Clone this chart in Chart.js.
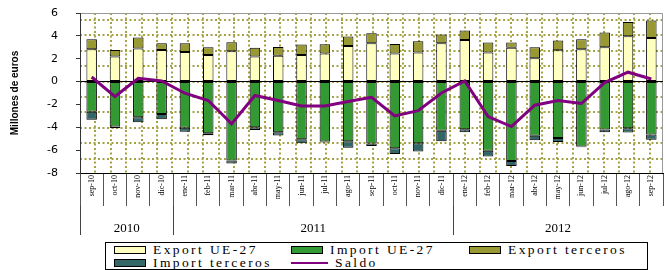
<!DOCTYPE html>
<html>
<head>
<meta charset="utf-8">
<script src="https://cdn.jsdelivr.net/npm/chart.js@4.4.0/dist/chart.umd.min.js"></script>
<style>
  body { margin: 0; background: #fff; }
  #wrap { position: relative; width: 666px; height: 270px; }
  #legend {
    position: absolute; left: 105px; top: 242px; width: 533px; height: 26px;
    border: 1px solid #000; box-sizing: content-box;
    font-family: 'Liberation Serif', serif; font-size: 13.5px; letter-spacing: 2.4px; color: #000;
    display: grid; grid-template-columns: 177px 178px auto; grid-auto-rows: 13px;
    padding-left: 8px; align-content: center;
  }
  .item { display: flex; align-items: center; white-space: nowrap; line-height: 13px; }
  .sw { width: 30px; height: 6px; border: 1px solid #000; margin-right: 7px; flex: none; }
  .ln { width: 37px; height: 2px; margin-right: 7px; flex: none; }
</style>
</head>
<body>
<div id="wrap">
  <canvas id="tradeChart" width="666" height="240"></canvas>
  <div id="legend"></div>
</div>
<script>
var months = ['sep-10', 'oct-10', 'nov-10', 'dic-10', 'ene-11', 'feb-11', 'mar-11', 'abr-11', 'may-11',
              'jun-11', 'jul-11', 'ago-11', 'sep-11', 'oct-11', 'nov-11', 'dic-11', 'ene-12', 'feb-12',
              'mar-12', 'abr-12', 'may-12', 'jun-12', 'jul-12', 'ago-12', 'sep-12'];
var years = ['2010', '2011', '2012'];
var yearStart = [0, 4, 16];   // first month index of each year

var exportUE = [2.83, 2.19, 2.89, 2.77, 2.59, 2.33, 2.65, 2.19, 2.27, 2.33, 2.45, 3.12, 3.35,
                2.45, 2.54, 3.35, 3.64, 2.54, 2.97, 2.04, 2.74, 2.83, 3.00, 3.97, 3.82];
var exportTerceros = [0.87, 0.58, 0.96, 0.58, 0.76, 0.67, 0.79, 0.78, 0.76, 0.91, 0.82, 0.82, 0.88,
                      0.84, 0.99, 0.76, 0.82, 0.87, 0.44, 0.96, 0.85, 0.87, 1.29, 1.25, 1.52];
var importUE = [-2.65, -3.94, -3.12, -2.83, -4.05, -4.52, -6.91, -3.99, -4.43, -5.04, -5.25, -5.22, -5.42,
                -5.83, -5.39, -4.31, -4.17, -6.06, -6.94, -4.75, -4.93, -5.69, -4.20, -4.08, -4.64];
var importTerceros = [-0.70, -0.14, -0.44, -0.46, -0.35, -0.17, -0.26, -0.24, -0.29, -0.35, -0.09, -0.58, -0.21,
                      -0.50, -0.73, -0.91, -0.26, -0.50, -0.44, -0.38, -0.35, -0.05, -0.23, -0.38, -0.46];
var saldo = [0.40, -1.31, 0.29, 0.06, -1.02, -1.66, -3.70, -1.22, -1.66, -2.13, -2.13, -1.75, -1.37,
             -3.00, -2.54, -1.00, 0.06, -3.06, -3.94, -2.07, -1.66, -1.92, -0.09, 0.82, 0.23];

// year axis: label positions (centre of each year block) and separators
var yearCentres = years.map(function(y, i) {
    var end = i + 1 < yearStart.length ? yearStart[i + 1] : months.length;
    return (yearStart[i] + end - 1) / 2;
});
var yearBounds = yearStart.map(function(s) { return s - 0.5; });

// dotted background pattern like the spreadsheet plot area,
// painted underneath everything already drawn
var plotBackground = {
    id: 'plotBackground',
    afterDraw: function(chart) {
        var a = chart.chartArea, c = chart.ctx, step = 15.4;
        c.save();
        c.globalCompositeOperation = 'destination-over';
        c.lineWidth = 1;
        c.strokeStyle = '#999';
        c.beginPath();
        c.moveTo(a.left, a.top + 0.5);
        c.lineTo(a.right - 0.5, a.top + 0.5);
        c.lineTo(a.right - 0.5, a.bottom);
        c.stroke();
        c.strokeStyle = '#a3a345';
        c.lineWidth = 2;
        c.setLineDash([2, 2.5]);
        c.beginPath();
        for (var x = a.left + step; x < a.right - 2; x += step) {
            c.moveTo(Math.round(x), a.top);
            c.lineTo(Math.round(x), a.bottom);
        }
        for (var y = a.top + 7; y < a.bottom - 2; y += step) {
            c.moveTo(a.left, Math.round(y));
            c.lineTo(a.right, Math.round(y));
        }
        c.stroke();
        c.restore();
    }
};

var ctx = document.getElementById('tradeChart').getContext('2d');
var myChart = new Chart(ctx, {
    type: 'bar',
    data: {
        labels: months,
        datasets: [
            { label: 'Saldo', type: 'line', data: saldo, borderColor: '#800080', borderWidth: 3,
              pointRadius: 0, tension: 0, order: 0, stack: 'line' },
            { label: 'Export UE-27', data: exportUE, backgroundColor: '#ffffc0', order: 1, stack: 's' },
            { label: 'Import UE-27', data: importUE, backgroundColor: '#339933', order: 1, stack: 's' },
            { label: 'Export terceros', data: exportTerceros, backgroundColor: '#999933', order: 1, stack: 's' },
            { label: 'Import terceros', data: importTerceros, backgroundColor: '#336666', order: 1, stack: 's' }
        ]
    },
    options: {
        responsive: false,
        animation: false,
        layout: { padding: { left: 0, right: 3, top: 13, bottom: 5 } },
        datasets: {
            bar: { borderColor: '#000', borderWidth: 1, borderSkipped: false,
                   barPercentage: 0.9, categoryPercentage: 0.5 }
        },
        plugins: {
            legend: { display: false },
            tooltip: { enabled: false }
        },
        scales: {
            x: {
                stacked: true,
                weight: 0,
                border: { display: true, color: '#000', width: 1 },
                grid: { offset: true, drawOnChartArea: false, color: '#555', tickLength: 33 },
                ticks: {
                    autoSkip: false, minRotation: 90, maxRotation: 90, padding: -31,
                    color: '#000', font: { family: 'Liberation Serif', size: 8 }
                },
                afterFit: function(scale) { scale.height = 33; }
            },
            x2: {
                type: 'linear',
                position: 'bottom',
                weight: 1,
                offset: false,
                min: -0.5,
                max: months.length - 0.5,
                border: { display: false },
                afterBuildTicks: function(scale) {
                    scale.ticks = yearBounds.concat(yearCentres).sort(function(a, b) { return a - b; })
                        .map(function(v) { return { value: v }; });
                },
                grid: {
                    offset: false, drawOnChartArea: false, tickLength: 29,
                    color: function(c) {
                        return c.tick && yearBounds.indexOf(c.tick.value) >= 0 ? '#444' : 'rgba(0,0,0,0)';
                    }
                },
                ticks: {
                    autoSkip: false, maxRotation: 0, padding: -14, color: '#000',
                    font: { family: 'Liberation Serif', size: 13 },
                    callback: function(v) {
                        var i = yearCentres.indexOf(v);
                        return i >= 0 ? years[i] : '';
                    }
                },
                afterFit: function(scale) { scale.height = 29; }
            },
            y: {
                stacked: true,
                min: -8,
                max: 6,
                border: { color: '#333', width: 1 },
                grid: {
                    tickLength: 4, tickColor: '#333',
                    color: function(c) { return c.tick && c.tick.value === 0 ? '#000' : 'rgba(0,0,0,0)'; }
                },
                ticks: { stepSize: 2, padding: 18, color: '#000', font: { family: 'DejaVu Sans', size: 11 } },
                title: {
                    display: true, text: 'Millones de euros', color: '#000',
                    font: { family: 'Liberation Sans', size: 10, weight: 'bold' },
                    padding: { top: 9, bottom: 0 }
                },
                afterFit: function(scale) {
                    scale.width = 80;
                    // tick padding would otherwise push the plot top down
                    scale.paddingTop = 0;
                    scale.paddingBottom = 0;
                }
            }
        }
    },
    plugins: [plotBackground]
});

// legend box, built from the chart datasets (order as in the original)
var legendOrder = ['Export UE-27', 'Import UE-27', 'Export terceros', 'Import terceros', 'Saldo'];
var legendEl = document.getElementById('legend');
legendOrder.forEach(function(name) {
    var ds = myChart.data.datasets.find(function(d) { return d.label === name; });
    var item = document.createElement('div');
    item.className = 'item';
    var mark = document.createElement('span');
    if (ds.type === 'line') {
        mark.className = 'ln';
        mark.style.background = ds.borderColor;
    } else {
        mark.className = 'sw';
        mark.style.background = ds.backgroundColor;
    }
    item.appendChild(mark);
    item.appendChild(document.createTextNode(name));
    legendEl.appendChild(item);
});
</script>
</body>
</html>
